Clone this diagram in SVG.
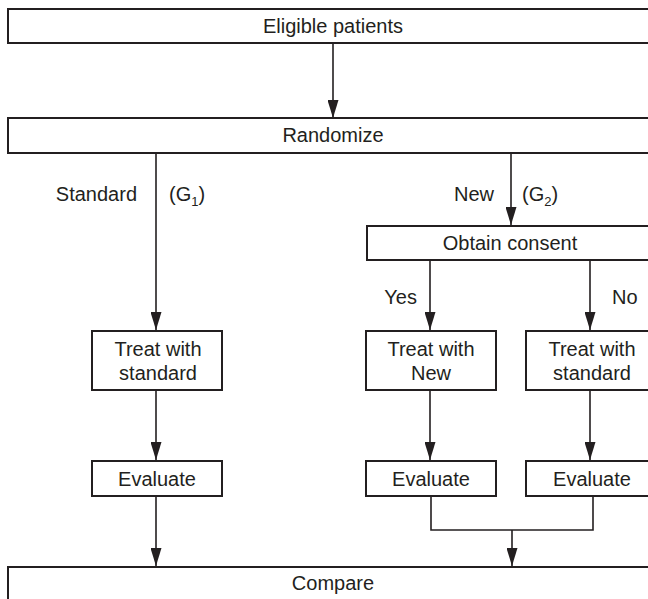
<svg xmlns="http://www.w3.org/2000/svg" width="648" height="599" viewBox="0 0 648 599">
<defs>
<marker id="ah" markerUnits="userSpaceOnUse" markerWidth="12" markerHeight="18" viewBox="0 0 10 17" refX="10" refY="5" orient="auto">
<path d="M0,0 L10,5 L0,10 Z" fill="#231f20" transform="translate(0,0)"/>
</marker>
<marker id="arr" markerUnits="userSpaceOnUse" markerWidth="18" markerHeight="11" viewBox="0 0 18 11" refX="18" refY="5.5" orient="auto">
<path d="M0,0 L18,5.5 L0,11 Z" fill="#231f20"/>
</marker>
<style>
.box{fill:#fff;stroke:#231f20;stroke-width:2}
.t{font-family:"Liberation Sans",Arial,Helvetica,sans-serif;font-size:20px;fill:#231f20}
.c{text-anchor:middle}
.ln{fill:none;stroke:#231f20;stroke-width:1.6}
.a{marker-end:url(#arr)}
.s{font-size:13px}
</style>
</defs>
<rect width="648" height="599" fill="#fff"/>
<g id="connectors">
<line class="ln a" x1="333" y1="43" x2="333" y2="118"/>
<line class="ln a" x1="156" y1="153" x2="156" y2="330"/>
<line class="ln a" x1="511" y1="153" x2="511" y2="225"/>
<line class="ln a" x1="430" y1="260" x2="430" y2="330"/>
<line class="ln a" x1="590" y1="260" x2="590" y2="330"/>
<line class="ln a" x1="156" y1="390" x2="156" y2="460"/>
<line class="ln a" x1="430" y1="390" x2="430" y2="460"/>
<line class="ln a" x1="590" y1="390" x2="590" y2="460"/>
<line class="ln a" x1="156" y1="496" x2="156" y2="566"/>
<path class="ln" d="M431,496 V530 H593 V496"/>
<line class="ln a" x1="512" y1="530" x2="512" y2="566"/>
<text class="t" x="137" y="201" text-anchor="end">Standard</text>
<text class="t" x="169" y="201">(G<tspan class="s" dy="5">1</tspan><tspan dy="-5">)</tspan></text>
<text class="t" x="494" y="201" text-anchor="end">New</text>
<text class="t" x="522" y="201">(G<tspan class="s" dy="5">2</tspan><tspan dy="-5">)</tspan></text>
<text class="t" x="417" y="304" text-anchor="end">Yes</text>
<text class="t" x="612" y="304">No</text>
</g>
<g id="eligible">
<rect class="box" x="8" y="9" width="650" height="34"/>
<text class="t c" x="333" y="33">Eligible patients</text>
</g>
<g id="randomize">
<rect class="box" x="8" y="118" width="650" height="35"/>
<text class="t c" x="333" y="142">Randomize</text>
</g>
<g id="consent">
<rect class="box" x="367" y="226" width="291" height="34"/>
<text class="t c" x="510" y="250">Obtain consent</text>
</g>
<g id="treat-standard-left">
<rect class="box" x="92" y="331" width="130" height="59"/>
<text class="t c" x="158" y="356">Treat with</text>
<text class="t c" x="158" y="380">standard</text>
</g>
<g id="treat-new">
<rect class="box" x="366" y="331" width="130" height="59"/>
<text class="t c" x="431" y="356">Treat with</text>
<text class="t c" x="431" y="380">New</text>
</g>
<g id="treat-standard-right">
<rect class="box" x="526" y="331" width="132" height="59"/>
<text class="t c" x="592" y="356">Treat with</text>
<text class="t c" x="592" y="380">standard</text>
</g>
<g id="evaluate-left">
<rect class="box" x="92" y="461" width="130" height="35"/>
<text class="t c" x="157" y="486">Evaluate</text>
</g>
<g id="evaluate-mid">
<rect class="box" x="366" y="461" width="130" height="35"/>
<text class="t c" x="431" y="486">Evaluate</text>
</g>
<g id="evaluate-right">
<rect class="box" x="526" y="461" width="132" height="35"/>
<text class="t c" x="592" y="486">Evaluate</text>
</g>
<g id="compare">
<rect class="box" x="8" y="567" width="650" height="45"/>
<text class="t c" x="333" y="590">Compare</text>
</g>
</svg>
